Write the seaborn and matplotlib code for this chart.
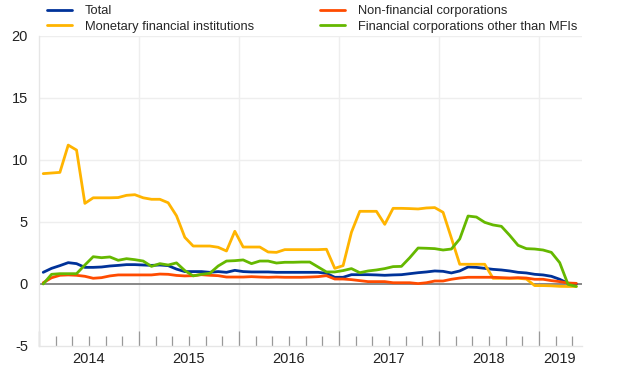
import numpy as np
import pandas as pd
import seaborn as sns
import matplotlib.pyplot as plt
import matplotlib.transforms as mtransforms

# monthly data, Jan 2014 - May 2019 (annual growth rates, %)
dates = pd.date_range("2014-01-01", periods=65, freq="MS")

total = [0.94, 1.26, 1.48, 1.72, 1.64, 1.34, 1.34, 1.37, 1.45, 1.5, 1.56, 1.56, 1.53, 1.5, 1.53, 1.48, 1.2,
         1.0, 1.0, 1.0, 0.94, 1.0, 0.94, 1.1, 1.0, 0.97, 0.97, 0.97, 0.94, 0.94, 0.94, 0.94,
         0.94, 0.94, 0.86, 0.54, 0.54, 0.75, 0.75, 0.75, 0.73, 0.7, 0.73, 0.75, 0.83, 0.91, 0.97, 1.05, 1.02,
         0.89, 1.05, 1.37, 1.34, 1.26, 1.18, 1.13, 1.05, 0.94, 0.89, 0.78, 0.73, 0.62, 0.38, 0.05, 0.0]
nfc = [0.1, 0.5, 0.7, 0.73, 0.7, 0.62, 0.46, 0.51, 0.65, 0.73, 0.73, 0.73, 0.73, 0.73, 0.8, 0.78, 0.69,
       0.65, 0.67, 0.75, 0.7, 0.67, 0.56, 0.56, 0.56, 0.59, 0.56, 0.54, 0.56, 0.54, 0.54, 0.54,
       0.56, 0.59, 0.67, 0.4, 0.4, 0.35, 0.27, 0.19, 0.19, 0.19, 0.1, 0.1, 0.1, 0.03, 0.1, 0.24, 0.24,
       0.38, 0.48, 0.54, 0.54, 0.54, 0.54, 0.51, 0.48, 0.51, 0.48, 0.38, 0.38, 0.27, 0.19, 0.08, 0.05]
mfi = [8.9, 8.95, 9.0, 11.2, 10.8, 6.5, 6.95, 6.95, 6.95, 6.97, 7.15, 7.2, 6.95, 6.83, 6.83, 6.55, 5.5,
       3.76, 3.06, 3.06, 3.06, 2.96, 2.66, 4.25, 2.98, 2.98, 2.98, 2.58, 2.55, 2.77, 2.77, 2.77,
       2.77, 2.77, 2.8, 1.26, 1.48, 4.17, 5.86, 5.86, 5.86, 4.81, 6.1, 6.1, 6.08, 6.05, 6.13, 6.16, 5.78,
       3.7, 1.59, 1.59, 1.59, 1.59, 0.46, 0.46, 0.46, 0.46, 0.4, -0.13, -0.13, -0.15, -0.19, -0.2, -0.2]
ofc = [0.0, 0.78, 0.83, 0.83, 0.83, 1.53, 2.2, 2.12, 2.18, 1.91, 2.04, 1.96, 1.85, 1.42, 1.64, 1.53, 1.7,
       1.08, 0.65, 0.78, 0.86, 1.45, 1.85, 1.88, 1.94, 1.64, 1.85, 1.85, 1.69, 1.75, 1.75, 1.77,
       1.77, 1.37, 0.97, 0.97, 1.08, 1.24, 0.91, 1.05, 1.13, 1.24, 1.4, 1.42, 2.12, 2.9, 2.88, 2.85, 2.74,
       2.82, 3.63, 5.48, 5.4, 4.97, 4.76, 4.65, 3.92, 3.12, 2.85, 2.82, 2.74, 2.55, 1.72, -0.03, -0.2]

series_names = ["Total", "Monetary financial institutions",
                "Non-financial corporations", "Financial corporations other than MFIs"]
colors = ["#003299", "#ffb400", "#ff4b00", "#65b800"]
years = ["2014", "2015", "2016", "2017", "2018", "2019"]

# months since Jan 2014, points sit in the middle of the month
month_idx = (dates.year - 2014) * 12 + dates.month - 1
df = pd.DataFrame({"month": np.tile(month_idx + 0.5, 4),
                   "value": np.concatenate([total, mfi, nfc, ofc]),
                   "series": np.repeat(series_names, len(dates))})

sns.set_style("white")
plt.rcParams["font.family"] = ["Liberation Sans", "DejaVu Sans"]
plt.rcParams["font.size"] = 9.5

fig = plt.figure(figsize=(6.2, 3.87), dpi=100)
ax = fig.add_axes([0.063, 0.106, 0.876, 0.801])

sns.lineplot(data=df, x="month", y="value", hue="series", hue_order=series_names,
             palette=colors, linewidth=2.0, ax=ax, legend=True)

ax.set_xlim(0, 65.2)
ax.set_ylim(-5, 20)
ax.set_yticks([-5, 0, 5, 10, 15, 20])
ax.set_yticklabels(["-5", "0", "5", "10", "15", "20"], fontsize=10.5, color="#222222")
ax.tick_params(axis="y", left=False, length=0, pad=8)

year_starts = [12 * k for k in range(len(years))]
ax.set_xticks(year_starts)
ax.set_xticks(range(2, 65, 2), minor=True)
ax.tick_params(axis="x", which="major", bottom=True, direction="in", length=10.8, width=0.9,
               color="#999999", labelbottom=False)
ax.tick_params(axis="x", which="minor", bottom=True, direction="in", length=7.2, width=0.9,
               color="#999999")

# grid
for v in [5, 10, 15, 20]:
    ax.axhline(v, color="#eeeeee", lw=1.0, zorder=0)
for xs in year_starts[1:]:
    ax.axvline(xs, color="#eeeeee", lw=1.0, zorder=0)
ax.axhline(0, color="#888888", lw=1.4, zorder=1)

for s in ["top", "right"]:
    ax.spines[s].set_visible(False)
for s in ["left", "bottom"]:
    ax.spines[s].set_color("#e6e6e6")
    ax.spines[s].set_linewidth(1.0)

# year labels centred on each (partial) year
trans = mtransforms.blended_transform_factory(ax.transData, ax.transAxes)
last = month_idx[-1] + 1
for k, yr in enumerate(years):
    start = year_starts[k]
    end = min(start + 12, last)
    ax.text((start + end) / 2, -0.02, yr, transform=trans, ha="center", va="top",
            fontsize=10.5, color="#222222")

ax.set_xlabel("")
ax.set_ylabel("")

handles, labels = ax.get_legend_handles_labels()
ax.legend(handles, labels, ncol=2, loc="lower left", bbox_to_anchor=(0.0147, 1.011),
          frameon=False, fontsize=9.3, handlelength=1.95, handletextpad=1.0,
          columnspacing=5.1, labelspacing=0.25, borderaxespad=0, borderpad=0)

fig.savefig("out.png", dpi=100)
